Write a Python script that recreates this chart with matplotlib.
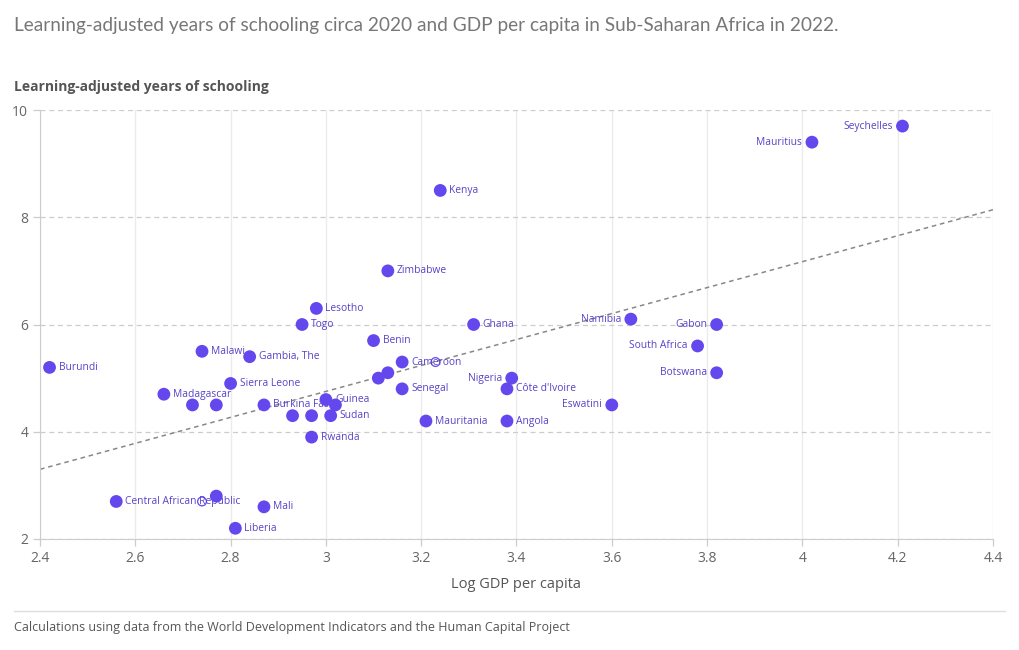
import matplotlib.pyplot as plt
from matplotlib.lines import Line2D

# Data
countries = ['Burundi', 'Central African Republic', 'Madagascar', '', '', 'Malawi',
             'Gambia, The', 'Sierra Leone', 'Burkina Faso', '', 'Togo', 'Lesotho',
             'Guinea', '', '', '', 'Sudan', 'Rwanda', 'Liberia', 'Mali', 'Zimbabwe',
             'Kenya', 'Benin', '', '', 'Cameroon', 'Senegal', 'Mauritania', 'Ghana',
             'Nigeria', "Côte d'Ivoire", 'Angola', 'Eswatini', 'Namibia', 'Gabon',
             'South Africa', 'Botswana', 'Mauritius', 'Seychelles']
log_gdp = [2.42, 2.56, 2.66, 2.72, 2.77, 2.74,
           2.84, 2.80, 2.87, 2.77, 2.95, 2.98,
           3.00, 3.02, 2.93, 2.97, 3.01, 2.97, 2.81, 2.87, 3.13,
           3.24, 3.10, 3.11, 3.13, 3.16, 3.16, 3.21, 3.31,
           3.39, 3.38, 3.38, 3.60, 3.64, 3.82,
           3.78, 3.82, 4.02, 4.21]
lays = [5.2, 2.7, 4.7, 4.5, 4.5, 5.5,
        5.4, 4.9, 4.5, 2.8, 6.0, 6.3,
        4.6, 4.5, 4.3, 4.3, 4.3, 3.9, 2.2, 2.6, 7.0,
        8.5, 5.7, 5.0, 5.1, 5.3, 4.8, 4.2, 6.0,
        5.0, 4.8, 4.2, 4.5, 6.1, 6.0,
        5.6, 5.1, 9.4, 9.7]
left_labels = ['Nigeria', 'Eswatini', 'Namibia', 'Gabon', 'South Africa',
               'Botswana', 'Mauritius', 'Seychelles']

# points hidden under other labels
hidden_x = [2.74, 3.23]
hidden_y = [2.7, 5.3]

trend_x = [2.4, 4.4]
trend_y = [3.3, 8.14]

xticks = [2.4, 2.6, 2.8, 3, 3.2, 3.4, 3.6, 3.8, 4, 4.2, 4.4]
xtick_labels = ['2.4', '2.6', '2.8', '3', '3.2', '3.4', '3.6', '3.8', '4', '4.2', '4.4']
yticks = [2, 4, 6, 8, 10]

dot_color = '#6448ee'
label_color = '#5644c8'

fig = plt.figure(figsize=(10.2, 6.5), dpi=100)
ax = fig.add_axes([40 / 1020, 1 - 539 / 650, 953 / 1020, 429 / 650])

ax.plot(trend_x, trend_y, color='#888888', linestyle=(0, (3, 2.5)), linewidth=1.1, zorder=2)
ax.scatter(hidden_x, hidden_y, s=40, facecolor='none', edgecolor=dot_color,
           linewidth=0.9, zorder=3)
ax.scatter(log_gdp, lays, s=85, color=dot_color, edgecolor='none', zorder=4)

for name, x, y in zip(countries, log_gdp, lays):
    if not name:
        continue
    if name in left_labels:
        ax.annotate(name, (x, y), xytext=(-7, 0), textcoords='offset points',
                    ha='right', va='center', fontsize=7.4, color=label_color,
                    family='Open Sans', zorder=3.5)
    else:
        ax.annotate(name, (x, y), xytext=(6.5, 0), textcoords='offset points',
                    ha='left', va='center', fontsize=7.4, color=label_color,
                    family='Open Sans', zorder=3.5)

ax.set_xlim(2.4, 4.4)
ax.set_ylim(2, 10)
ax.set_xticks(xticks)
ax.set_xticklabels(xtick_labels)
ax.set_yticks(yticks)

ax.xaxis.grid(True, color='#ebebeb', linewidth=1, linestyle='-')
ax.yaxis.grid(True, color='#cccccc', linewidth=0.9, linestyle=(0, (4, 3)))
ax.set_axisbelow(True)

for side in ['top', 'right']:
    ax.spines[side].set_visible(False)
ax.spines['left'].set_color('#cccccc')
ax.spines['bottom'].set_color('#cccccc')
ax.tick_params(axis='both', colors='#cccccc', labelcolor='#666666', labelsize=10,
               length=5, width=0.9)
for lbl in ax.get_xticklabels() + ax.get_yticklabels():
    lbl.set_family('Open Sans')

ax.set_xlabel('Log GDP per capita', fontsize=10.5, color='#555555',
              family='Open Sans', labelpad=8)

fig.text(14 / 1020, 1 - 26 / 650, 'Learning-adjusted years of schooling circa 2020 and GDP per capita in Sub-Saharan Africa in 2022.',
         fontsize=13.7, color='#777777', family='Lato',
         va='center', ha='left')
fig.text(14 / 1020, 1 - 87 / 650, 'Learning-adjusted years of schooling',
         fontsize=10, color='#555555', family='Open Sans', weight='bold',
         va='center', ha='left')
fig.add_artist(Line2D([14 / 1020, 1005 / 1020], [1 - 611 / 650, 1 - 611 / 650],
                      color='#dddddd', linewidth=1, transform=fig.transFigure))
fig.text(14 / 1020, 1 - 628 / 650,
         'Calculations using data from the World Development Indicators and the Human Capital Project',
         fontsize=9.0, color='#555555', family='Open Sans', va='center', ha='left')

fig.savefig('out.png', dpi=100)
